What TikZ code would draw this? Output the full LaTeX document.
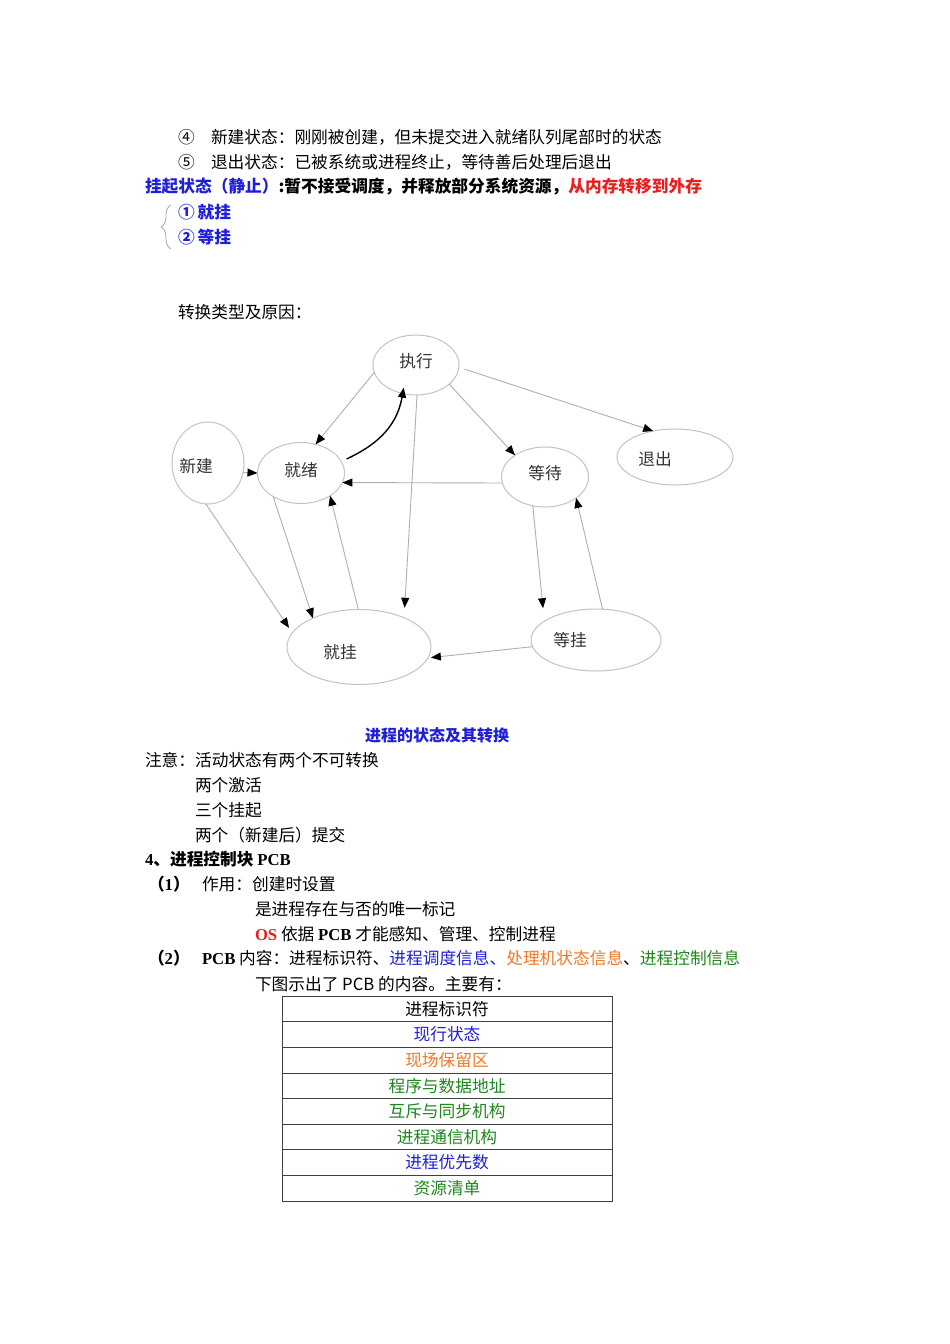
\documentclass[tikz,border=0pt]{standalone}
\usepackage{fontspec}
\setmainfont{Liberation Serif}
\newfontfamily\cjk{Noto Sans CJK SC}
\usepackage{tikz}
\usetikzlibrary{arrows.meta}
\usetikzlibrary{positioning}
\usetikzlibrary{shapes.geometric}
\usetikzlibrary{decorations.pathreplacing}

\definecolor{txtblue}{RGB}{30,30,220}
\definecolor{txtred}{RGB}{235,30,30}
\definecolor{txtorange}{RGB}{240,120,40}
\definecolor{txtgreen}{RGB}{30,135,30}
\definecolor{stategray}{RGB}{195,195,195}
\definecolor{edgegray}{RGB}{175,175,175}

\newcommand\lat[1]{{\rmfamily\bfseries #1}}

\tikzset{
	para/.style={anchor=west, inner sep=0pt, outer sep=0pt, font=\cjk\fontsize{16.7}{20}\selectfont},
	parabold/.style={para, font=\cjk\bfseries\fontsize{16.7}{20}\selectfont},
	state/.style={ellipse, draw=stategray, line width=1pt, inner sep=0pt, outer sep=0pt},
	stlabel/.style={font=\cjk\fontsize{16.7}{20}\selectfont, text=black!80, inner sep=0pt},
	trans/.style={-{Triangle[length=10pt,width=8pt,color=black]}, every edge/.style={draw=edgegray, line width=0.9pt}},
	ready/.style={draw=black, line width=1.4pt, -{Triangle[length=10pt,width=8pt]}},
	cell/.style={draw=black!75, line width=1pt, minimum width=330, minimum height=25.6, inner sep=0pt, outer sep=0pt, font=\cjk\fontsize{16.7}{20}\selectfont}
}

\begin{document}
\begin{tikzpicture}[x=1pt,y=-1pt]
	\fill[white] (0,0) rectangle (950,1344);
	\useasboundingbox (0,0) rectangle (950,1344);

	\node[para] (c4) at (178,137) {④};
	\node[para] (l1) at (211,137) {新建状态：刚刚被创建，但未提交进入就绪队列尾部时的状态};
	\node[para] (c5) at (178,162) {⑤};
	\node[para] (l2) at (211,162) {退出状态：已被系统或进程终止，等待善后处理后退出};
	\node[parabold] (l3) at (145,187) {\textcolor{txtblue}{挂起状态（静止）}:暂不接受调度，并释放部分系统资源，\textcolor{txtred}{从内存转移到外存}};
	\node[parabold, text=txtblue] (g1) at (178,212) {①\hspace{3pt}就挂};
	\node[parabold, text=txtblue] (g2) at (178,237) {②\hspace{3pt}等挂};
	\draw[black!35, line width=0.8pt, decorate, decoration={brace, amplitude=10pt}] (171,249) -- (171,205);
	\node[para] (l4) at (178,312) {转换类型及原因：};

	\node[state, minimum width=86, minimum height=60, label={[stlabel, yshift=4]center:执行}] (zx) at (416,365) {};
	\node[state, minimum width=72, minimum height=82, label={[stlabel, xshift=-12, yshift=-3]center:新建}] (xj) at (208,463) {};
	\node[state, minimum width=87, minimum height=61, label={[stlabel, yshift=3]center:就绪}] (jx) at (301,473) {};
	\node[state, minimum width=87, minimum height=60, label={[stlabel, yshift=4]center:等待}] (dd) at (545,477) {};
	\node[state, minimum width=116, minimum height=56, label={[stlabel, xshift=-20, yshift=-2]center:退出}] (tc) at (675,457) {};
	\node[state, minimum width=144, minimum height=75, label={[stlabel, xshift=-19, yshift=-5]center:就挂}] (jg) at (359,647) {};
	\node[state, minimum width=130, minimum height=62, label={[stlabel, xshift=-26]center:等挂}] (dg) at (596,640) {};

	\path[trans]
	(zx.190)	edge	(jx.63)
	(zx.-30)	edge	(dd.144)
	(zx.-3)	edge[shorten <=6pt]	(tc.130)
	(zx.-88)	edge[shorten >=10pt]	(jg.33)
	(xj.-15)	edge	(jx.west)
	(xj.-93)	edge[shorten >=6pt]	(jg.168)
	(jx.220)	edge	(jg.148)
	(jg.91)	edge	(jx.-38)
	(dd.188)	edge	(jx.-13)
	(dd.247)	edge[shorten >=13pt]	(dg.160)
	(dg.78)	edge	(dd.-34)
	(dg.186)	edge[shorten >=3pt]	(jg.-9);
	\draw[ready, shorten <=6pt, shorten >=-6pt] (jx.16) to[out=25,in=-100] (zx.245);

	\node[font=\cjk\bfseries\fontsize{16}{19}\selectfont, text=txtblue, inner sep=0pt] (cap) at (437,735) {进程的状态及其转换};

	\node[para] (n0) at (145,760) {注意：活动状态有两个不可转换};
	\node[para] (n1) at (195,785) {两个激活};
	\node[para] (n2) at (195,810) {三个挂起};
	\node[para] (n3) at (195,835) {两个（新建后）提交};
	\node[parabold] (h4) at (145,859) {\lat{4}、进程控制块 \lat{PCB}};
	\node[parabold] (p1) at (148,884) {（\lat{1}）};
	\node[para] (p1a) at (202,884) {作用：创建时设置};
	\node[para] (p1b) at (255,909) {是进程存在与否的唯一标记};
	\node[para] (p1c) at (255,934) {\textcolor{txtred}{\lat{OS}} 依据 \lat{PCB} 才能感知、管理、控制进程};
	\node[parabold] (p2) at (148,958) {（\lat{2}）};
	\node[para] (p2a) at (202,958) {\lat{PCB} 内容：进程标识符、\textcolor{txtblue}{进程调度信息、}\textcolor{txtorange}{处理机状态信息}、\textcolor{txtgreen}{进程控制信息}};
	\node[para] (p2b) at (255,984) {下图示出了 PCB 的内容。主要有：};

	\node[cell] (r1) at (447,1009) {进程标识符};
	\node[cell, below=0pt of r1, text=txtblue] (r2) {现行状态};
	\node[cell, below=0pt of r2, text=txtorange] (r3) {现场保留区};
	\node[cell, below=0pt of r3, text=txtgreen] (r4) {程序与数据地址};
	\node[cell, below=0pt of r4, text=txtgreen] (r5) {互斥与同步机构};
	\node[cell, below=0pt of r5, text=txtgreen] (r6) {进程通信机构};
	\node[cell, below=0pt of r6, text=txtblue] (r7) {进程优先数};
	\node[cell, below=0pt of r7, text=txtgreen] (r8) {资源清单};
\end{tikzpicture}
\end{document}
